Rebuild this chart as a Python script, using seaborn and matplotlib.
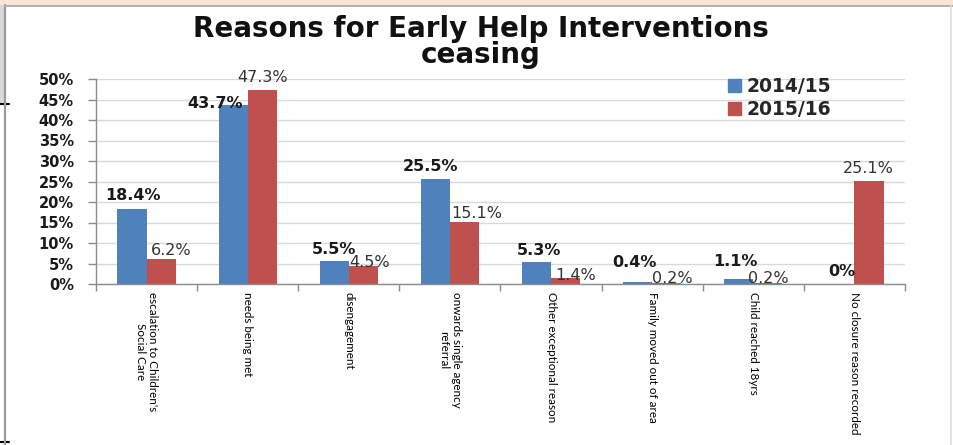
import matplotlib
matplotlib.use("Agg")
import matplotlib.pyplot as plt
import matplotlib.patches as mpatches
from matplotlib.ticker import PercentFormatter, FixedLocator
import seaborn as sns
import pandas as pd

categories = [
    "escalation to Children's\nSocial Care",
    "needs being met",
    "disengagement",
    "onwards single agency\nreferral",
    "Other exceptional reason",
    "Family moved out of area",
    "Child reached 18yrs",
    "No closure reason recorded",
]
series_names = ["2014/15", "2015/16"]
values_2014 = [18.4, 43.7, 5.5, 25.5, 5.3, 0.4, 1.1, 0.0]
values_2015 = [6.2, 47.3, 4.5, 15.1, 1.4, 0.2, 0.2, 25.1]
y_ticks = [0, 5, 10, 15, 20, 25, 30, 35, 40, 45, 50]
title = "Reasons for Early Help Interventions\nceasing"

# label placement nudges (pixels: dx right, dy up of label centre from bar top)
nudge_2014 = [(1, 13), (-18, 1), (0, 12), (-5, 13), (2, 12), (-3, 20), (-3, 18), (2, 13)]
nudge_2015 = [(10, 8), (0, 13), (6, 3), (12, 9), (10, 3), (6, 5), (0, 5), (-1, 13)]

colors = ["#4F81BD", "#C0504D"]

df = pd.DataFrame({
    "category": categories * 2,
    "series": [series_names[0]] * len(categories) + [series_names[1]] * len(categories),
    "value": values_2014 + values_2015,
})

sns.set_theme(style="white")
plt.rcParams["font.family"] = ["DejaVu Sans"]

W, H = 954, 445
fig = plt.figure(figsize=(W / 100, H / 100), dpi=100)
fig.patch.set_facecolor("white")

# frame decorations
fig.add_artist(mpatches.Rectangle((0, 1 - 5 / H), 1, 5 / H, transform=fig.transFigure,
                                  facecolor="#fbe4d5", edgecolor="none", zorder=0))
fig.add_artist(mpatches.Rectangle((0, 1 - 104 / H), 5 / W, 99 / H, transform=fig.transFigure,
                                  facecolor="#d9d9d9", edgecolor="none", zorder=0))
fig.add_artist(plt.Line2D([0, 9 / W], [1 - 104 / H] * 2, transform=fig.transFigure,
                          color="black", lw=1.5))
fig.add_artist(plt.Line2D([0, 9 / W], [1 - 442 / H] * 2, transform=fig.transFigure,
                          color="black", lw=1.5))
fig.add_artist(plt.Line2D([5.5 / W, 5.5 / W], [0, 1 - 5 / H], transform=fig.transFigure,
                          color="#9a9a9a", lw=1.6))
fig.add_artist(plt.Line2D([5.5 / W, 1], [1 - 5.5 / H] * 2, transform=fig.transFigure,
                          color="#b0b0b0", lw=1.4))
fig.add_artist(plt.Line2D([951.5 / W] * 2, [0, 1 - 5 / H], transform=fig.transFigure,
                          color="#dcdcdc", lw=1.2))

left, right, top, bottom = 96, 905, 79, 284
ax = fig.add_axes([left / W, 1 - bottom / H, (right - left) / W, (bottom - top) / H])

sns.barplot(data=df, x="category", y="value", hue="series", palette=colors,
            width=0.575, saturation=1, ax=ax, legend=False, edgecolor="none")

ax.set_ylim(0, 50)
ax.set_xlim(-0.5, len(categories) - 0.5)
ax.yaxis.set_major_locator(FixedLocator(y_ticks))
ax.yaxis.set_major_formatter(PercentFormatter(decimals=0))
ax.grid(axis="y", color="#d9d9d9", lw=1)
ax.set_axisbelow(True)
for s in ["top", "right"]:
    ax.spines[s].set_visible(False)
for s in ["left", "bottom"]:
    ax.spines[s].set_color("#8c8c8c")
    ax.spines[s].set_linewidth(1)

ax.set_xlabel("")
ax.set_ylabel("")
ax.tick_params(axis="y", direction="out", length=6, width=1, color="#8c8c8c",
               labelsize=10.5, pad=10, left=True)
for lbl in ax.get_yticklabels():
    lbl.set_fontweight("bold")
    lbl.set_color("#1a1a1a")
ax.set_xticks(range(len(categories)))
ax.set_xticklabels(categories, rotation=270, ha="center", va="top",
                   family=["Lato", "DejaVu Sans"], fontsize=8.4, color="#000000",
                   linespacing=1.15)
ax.tick_params(axis="x", which="major", length=0, pad=6)
ax.set_xticks([i - 0.5 for i in range(len(categories) + 1)], minor=True)
ax.tick_params(axis="x", which="minor", direction="out", length=5, width=1,
               color="#8c8c8c", bottom=True)

# value labels
nb = len(categories)
px2pt = 0.72
for i, p in enumerate(ax.patches[:2 * nb]):
    v = p.get_height()
    cx = p.get_x() + p.get_width() / 2
    if i < nb:
        dx, dy = nudge_2014[i]
        ax.annotate(f"{v:g}%", (cx, v), xytext=(dx * px2pt, dy * px2pt),
                    textcoords="offset points", ha="center", va="center",
                    fontsize=11.5, fontweight="bold", color="#1a1a1a")
    else:
        dx, dy = nudge_2015[i - nb]
        ax.annotate(f"{v:g}%", (cx, v), xytext=(dx * px2pt, dy * px2pt),
                    textcoords="offset points", ha="center", va="center",
                    fontsize=11.5, color="#333333")

handles = [mpatches.Patch(color=c) for c in colors]
leg = fig.legend(handles, series_names, loc="upper left",
                 bbox_to_anchor=(711 / W, 1 - 60 / H), frameon=False,
                 prop={"weight": "bold", "size": 13.5},
                 handlelength=0.7, handleheight=0.7, handletextpad=0.3,
                 labelspacing=0.22)

fig.text((left + right) / 2 / W - 0.021, 1 - 42 / H, title, ha="center", va="center",
         fontsize=20, fontweight="bold", family=["DejaVu Sans"],
         linespacing=0.95, color="#111111")

fig.savefig("out.png", dpi=100)
